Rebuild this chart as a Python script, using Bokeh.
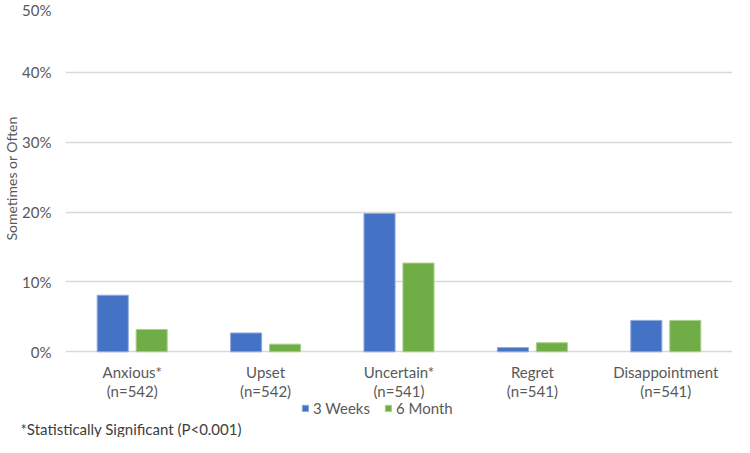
from bokeh.plotting import figure
from bokeh.models import (ColumnDataSource, FactorRange, Range1d, Legend, LegendItem, Title,
                          NumeralTickFormatter, FixedTicker)
from bokeh.transform import dodge
from bokeh.core.properties import value
from bokeh.embed import file_html
from bokeh.resources import INLINE

categories = ["Anxious*", "Upset", "Uncertain*", "Regret", "Disappointment"]
n_labels = ["(n=542)", "(n=542)", "(n=541)", "(n=541)", "(n=541)"]
weeks3 = [0.081, 0.027, 0.198, 0.006, 0.045]
month6 = [0.032, 0.011, 0.127, 0.013, 0.045]
y_ticks = [0, 0.1, 0.2, 0.3, 0.4, 0.5]

FONT = "Lato"
TXT = "#595959"
BLUE = "#4472C4"
GREEN = "#70AD47"
FS = "15px"

W, H = 734, 437
B_LEFT, B_RIGHT, B_TOP, B_BOTTOM = 55, 2, 2, 18
FRAME_H = H - B_TOP - B_BOTTOM
PLOT_PX = 351                      # pixels for 0..50%
BELOW_PX = FRAME_H - PLOT_PX       # room under the baseline for labels/legend
Y_TOP = 0.5
y_start = -Y_TOP * BELOW_PX / PLOT_PX

src = ColumnDataSource(dict(cat=categories, n=n_labels, w3=weeks3, m6=month6,
                            zero=[0] * len(categories)))

p = figure(width=W, height=H,
           x_range=FactorRange(*categories, range_padding=0),
           y_range=Range1d(y_start, Y_TOP), output_backend="svg", toolbar_location=None,
           min_border_left=B_LEFT, min_border_right=B_RIGHT, min_border_top=B_TOP,
           min_border_bottom=B_BOTTOM)
p.outline_line_color = None

r1 = p.vbar(x=dodge("cat", -0.146, range=p.x_range), top="w3", width=0.233, source=src,
            fill_color=BLUE, line_color="#8FA9DC", line_width=1)
r2 = p.vbar(x=dodge("cat", 0.146, range=p.x_range), top="m6", width=0.233, source=src,
            fill_color=GREEN, line_color="#A9D18E", line_width=1)

# category labels (two rows) under the baseline
p.text(x="cat", y="zero", text="cat", source=src, y_offset=20, text_align="center",
       text_baseline="middle", text_font=value(FONT), text_font_size=FS, text_color=TXT)
p.text(x="cat", y="zero", text="n", source=src, y_offset=39, text_align="center",
       text_baseline="middle", text_font=value(FONT), text_font_size=FS, text_color=TXT)

p.xaxis.visible = False
p.xgrid.grid_line_color = None
p.ygrid.ticker = FixedTicker(ticks=y_ticks)
p.ygrid.grid_line_color = "#D9D9D9"
p.ygrid.grid_line_width = 1.5
p.yaxis.ticker = FixedTicker(ticks=y_ticks)
p.yaxis.formatter = NumeralTickFormatter(format="0%")
p.yaxis.axis_line_color = None
p.yaxis.major_tick_line_color = None
p.yaxis.minor_tick_line_color = None
p.yaxis.major_label_text_font = FONT
p.yaxis.major_label_text_font_size = FS
p.yaxis.major_label_text_color = TXT
p.yaxis.major_label_standoff = 8

ylab = Title(text="Sometimes or Often", align="left", offset=177, text_font=FONT,
             text_font_size="14px", text_font_style="normal", text_color=TXT, standoff=0)
p.add_layout(ylab, "left")

legend = Legend(items=[LegendItem(label="3 Weeks", renderers=[r1]),
                       LegendItem(label="6 Month", renderers=[r2])],
                orientation="horizontal", location=(236, 0),
                label_text_font=FONT, label_text_font_size=FS, label_text_color=TXT,
                glyph_width=8, glyph_height=8, label_standoff=4, spacing=14,
                padding=0, margin=0, background_fill_alpha=0, border_line_color=None)
p.add_layout(legend, "center")

note = Title(text="*Statistically Significant (P<0.001)", align="left", offset=-45,
             text_font=FONT, text_font_size=FS, text_font_style="normal",
             text_color="#404040", standoff=0)
p.add_layout(note, "below")

open("out.html", "w").write(file_html(p, INLINE))
